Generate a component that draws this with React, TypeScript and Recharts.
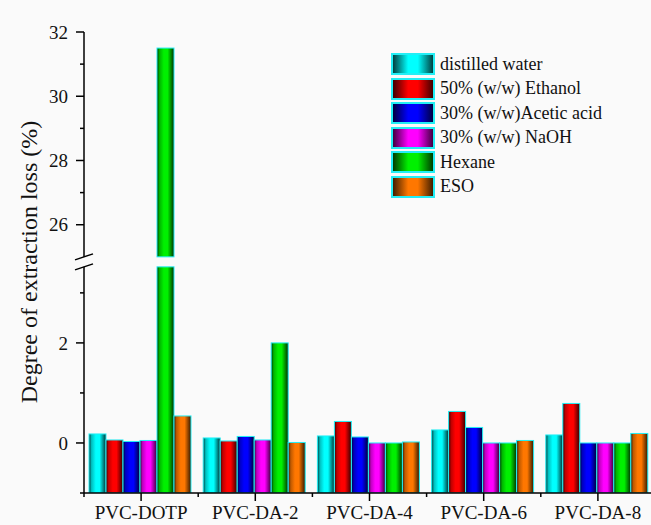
import React from "react";
import { BarChart, Bar, XAxis, YAxis } from "recharts";

// --- data ---
const categories = ["PVC-DOTP", "PVC-DA-2", "PVC-DA-4", "PVC-DA-6", "PVC-DA-8"];
const seriesNames = [
	"distilled water",
	"50% (w/w) Ethanol",
	"30% (w/w)Acetic acid",
	"30% (w/w) NaOH",
	"Hexane",
	"ESO",
];
const distilledWater = [0.18, 0.1, 0.14, 0.26, 0.16];
const ethanol = [0.06, 0.04, 0.43, 0.63, 0.79];
const aceticAcid = [0.03, 0.13, 0.12, 0.31, 0.0];
const naoh = [0.05, 0.06, 0.0, 0.0, 0.0];
const hexane = [31.5, 2.0, 0.0, 0.0, 0.0];
const eso = [0.54, 0.01, 0.02, 0.05, 0.19];
const seriesValues = [distilledWater, ethanol, aceticAcid, naoh, hexane, eso];
const seriesColors = ["#00ffff", "#ff0000", "#0000ff", "#ff00ff", "#00f000", "#ff7700"];

const lowerTicks = [-1, 0, 1, 2, 3];
const upperTicks = [26, 27, 28, 29, 30, 31, 32];
const labeledTicks = [0, 2, 26, 28, 30, 32];

// --- broken axis mapping ---
const LOW_MIN = -1;
const LOW_MAX = 3.52;
const UP_MIN = 25;
const UP_MAX = 32;
const GAP = 0.2;
const UP_SCALE = 0.642;
const LOW_TOP_T = LOW_MAX - LOW_MIN;
const UP_BASE_T = LOW_TOP_T + GAP;
const BREAK_T = LOW_TOP_T + GAP / 2;

const toT = (v: number) => (v <= LOW_MAX ? v - LOW_MIN : UP_BASE_T + (v - UP_MIN) * UP_SCALE);
const fromT = (t: number) =>
	t <= LOW_TOP_T + 1e-6 ? t + LOW_MIN : UP_MIN + (t - UP_BASE_T) / UP_SCALE;

const rows = categories.map((name, i) => {
	const row: any = { name };
	seriesValues.forEach((vals, k) => {
		row["s" + k] = toT(vals[i]);
	});
	return row;
});

const BG = "#fafafa";
const FONT = "'Liberation Serif', 'Times New Roman', serif";
const EDGE = "#22eef5";

const darken = (hex: string, f: number) => {
	const n = parseInt(hex.slice(1), 16);
	const r = Math.round(((n >> 16) & 255) * f);
	const g = Math.round(((n >> 8) & 255) * f);
	const b = Math.round((n & 255) * f);
	return `rgb(${r},${g},${b})`;
};

const BarShape = (props: any) => {
	const { x, y, width, height, fill, value } = props;
	const t = Array.isArray(value) ? value[1] : value;
	if (!height || height <= 0) return null;
	const bottom = y + height;
	if (t > UP_BASE_T) {
		// bar crosses the axis break: draw it in two pieces
		const pxPerT = height / t;
		const lowTop = bottom - LOW_TOP_T * pxPerT;
		const upBase = bottom - UP_BASE_T * pxPerT;
		return (
			<g>
				<rect x={x} y={lowTop} width={width} height={bottom - lowTop} fill={fill} stroke={EDGE} strokeWidth={1} />
				<rect x={x} y={y} width={width} height={upBase - y} fill={fill} stroke={EDGE} strokeWidth={1} />
			</g>
		);
	}
	return <rect x={x} y={y} width={width} height={height} fill={fill} stroke={EDGE} strokeWidth={1} />;
};

const YTick = (props: any) => {
	const { x, y, payload } = props;
	const t = payload.value;
	if (Math.abs(t - BREAK_T) < 1e-6) {
		return (
			<g>
				<rect x={x - 3} y={y - 5} width={6} height={10} fill={BG} />
				<line x1={x - 9} y1={y - 2} x2={x + 9} y2={y - 8} stroke="#000" strokeWidth={1.5} />
				<line x1={x - 9} y1={y + 8} x2={x + 9} y2={y + 2} stroke="#000" strokeWidth={1.5} />
			</g>
		);
	}
	const v = Math.round(fromT(t) * 1000) / 1000;
	const major = labeledTicks.includes(v);
	return (
		<g>
			<line x1={x - (major ? 8 : 4)} y1={y} x2={x} y2={y} stroke="#000" strokeWidth={1.5} />
			{major && (
				<text x={x - 16} y={y} dy="0.35em" textAnchor="end" fontSize={19} fontFamily={FONT} fill="#111">
					{v}
				</text>
			)}
		</g>
	);
};

const XTick = (props: any) => {
	const { x, y, payload, index, visibleTicksCount, width } = props;
	const band = width && visibleTicksCount ? width / visibleTicksCount : 114;
	return (
		<g>
			<line x1={x} y1={y} x2={x} y2={y + 8} stroke="#000" strokeWidth={1.5} />
			<line x1={x - band / 2} y1={y} x2={x - band / 2} y2={y + 4} stroke="#000" strokeWidth={1.5} />
			{index === visibleTicksCount - 1 && (
				<line x1={x + band / 2} y1={y} x2={x + band / 2} y2={y + 4} stroke="#000" strokeWidth={1.5} />
			)}
			<text x={x} y={y + 26} textAnchor="middle" fontSize={19} fontFamily={FONT} fill="#111">
				{payload.value}
			</text>
		</g>
	);
};

const yTicks = [...lowerTicks.map(toT), BREAK_T, ...upperTicks.map(toT)];

export default function App() {
	return (
		<div style={{ position: "relative", width: 651, height: 525, background: BG, overflow: "hidden" }}>
			<style>{`body{margin:0;background:${BG};}`}</style>
			<BarChart
				width={651}
				height={525}
				data={rows}
				margin={{ top: 32, right: -4, bottom: 0, left: 0 }}
				barCategoryGap={5}
				barGap={0}
			>
				<defs>
					{seriesColors.map((c, k) => (
						<linearGradient key={k} id={"grad" + k} x1="0" y1="0" x2="1" y2="0">
							<stop offset="0%" stopColor={darken(c, 0.22)} />
							<stop offset="15%" stopColor={darken(c, 0.75)} />
							<stop offset="40%" stopColor={c} />
							<stop offset="62%" stopColor={c} />
							<stop offset="100%" stopColor={darken(c, 0.2)} />
						</linearGradient>
					))}
				</defs>
				<XAxis
					dataKey="name"
					height={32}
					tickSize={0}
					tickMargin={0}
					tick={<XTick />}
					axisLine={{ stroke: "#000", strokeWidth: 1.5 }}
					interval={0}
				/>
				<XAxis
					xAxisId="top"
					dataKey="name"
					orientation="top"
					height={0}
					tick={false}
					tickLine={false}
					axisLine={{ stroke: "#222", strokeWidth: 2 }}
				/>
				<YAxis
					type="number"
					width={84}
					domain={[0, toT(UP_MAX)]}
					ticks={yTicks}
					interval={0}
					tickSize={0}
					tickMargin={0}
					tick={<YTick />}
					axisLine={{ stroke: "#000", strokeWidth: 1.5 }}
					allowDataOverflow
				/>
				{seriesNames.map((name, k) => (
					<Bar
						key={k}
						dataKey={"s" + k}
						name={name}
						fill={`url(#grad${k})`}
						shape={<BarShape />}
						isAnimationActive={false}
					/>
				))}
			</BarChart>
			<svg width={60} height={525} style={{ position: "absolute", left: 0, top: 0, pointerEvents: "none" }}>
				<text
					x={37}
					y={262}
					transform="rotate(-90 37 262)"
					textAnchor="middle"
					fontSize={24}
					fontFamily={FONT}
					fill="#111"
				>
					Degree of extraction loss (%)
				</text>
			</svg>
			<div style={{ position: "absolute", left: 391, top: 52, fontFamily: FONT }}>
				{seriesNames.map((name, k) => (
					<div key={k} style={{ display: "flex", alignItems: "center", height: 24.5 }}>
						<div
							style={{
								width: 40,
								height: 18,
								border: `2px solid ${EDGE}`,
								background: `linear-gradient(to right, ${darken(seriesColors[k], 0.25)} 0%, ${seriesColors[k]} 38%, ${seriesColors[k]} 62%, ${darken(seriesColors[k], 0.25)} 100%)`,
							}}
						/>
						<span style={{ marginLeft: 5, fontSize: 18, color: "#111", whiteSpace: "nowrap" }}>{name}</span>
					</div>
				))}
			</div>
		</div>
	);
}
